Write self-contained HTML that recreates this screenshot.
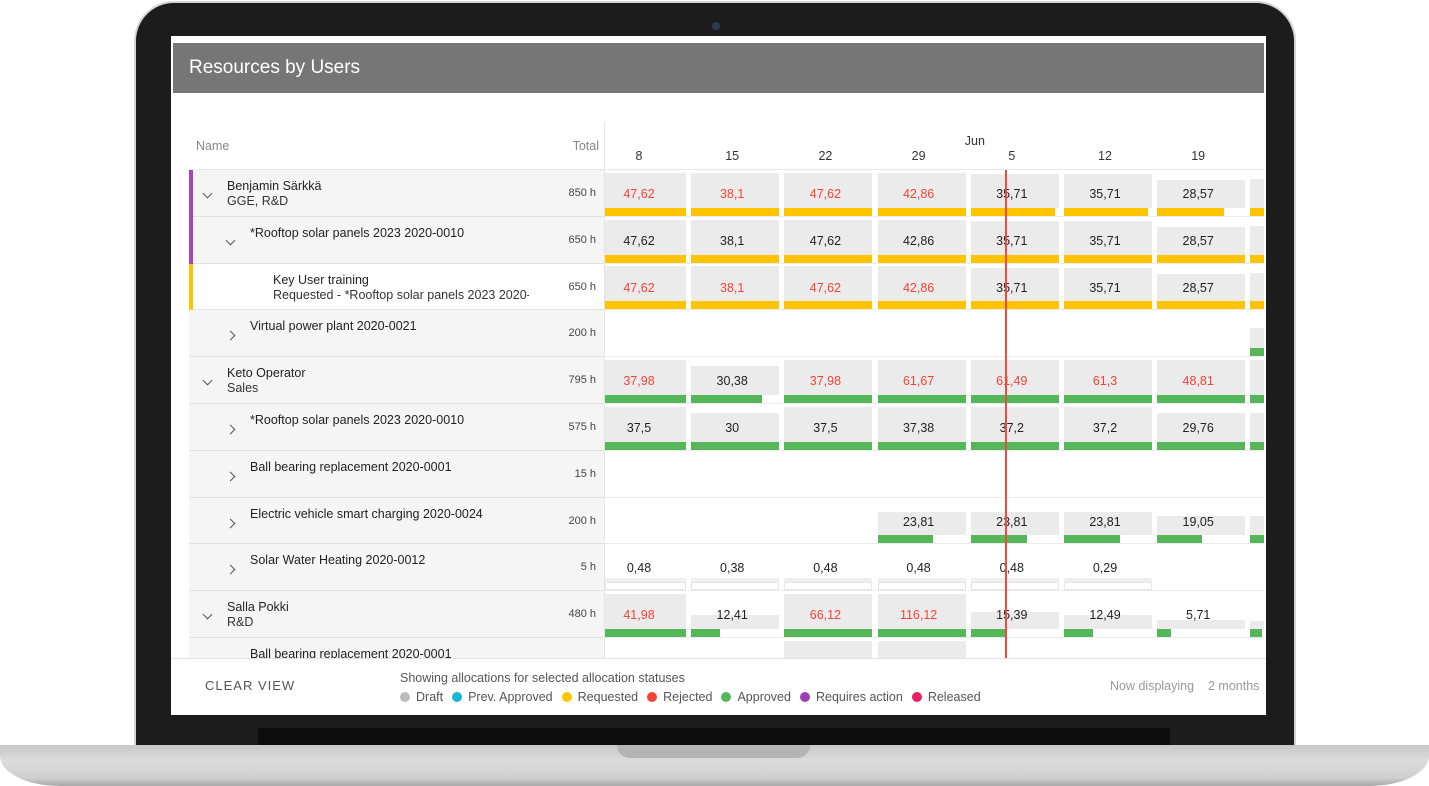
<!DOCTYPE html>
<html><head><meta charset="utf-8">
<style>
*{box-sizing:border-box;margin:0;padding:0}
body{width:1429px;height:786px;background:#fff;position:relative;overflow:hidden;font-family:"Liberation Sans",sans-serif;}
.abs{position:absolute}
.t{position:absolute;white-space:nowrap;font-size:12.5px;color:#222}
</style></head><body>
<div class="abs" style="left:134px;top:1px;width:1162px;height:752px;background:#1c1c1c;border-radius:40px 40px 0 0;border:2px solid #d4d4d4;border-bottom:none"></div>
<div class="abs" style="left:712px;top:22px;width:8px;height:8px;border-radius:50%;background:#2a3a55"></div>
<div class="abs" style="left:258px;top:728px;width:912px;height:18px;background:#0c0c0c"></div>
<div class="abs" style="left:0;top:745px;width:1429px;height:41px;background:linear-gradient(#c8c8c8,#dcdcdc 40%,#cfcfcf 80%,#a9a9a9);border-radius:0 0 60px 60px/0 0 30px 30px"></div>
<div class="abs" style="left:617px;top:745px;width:193px;height:13px;background:#b4b4b4;border-radius:0 0 14px 14px"></div>

<div class="abs" style="left:171px;top:36px;width:1095px;height:679px;background:#fff;overflow:hidden" id="screen">
  <div class="abs" style="left:2px;top:7px;width:1091px;height:50px;background:#767676"></div>
  <div class="t" style="left:18px;top:21px;font-size:19px;color:#fff">Resources by Users</div>
  <div id="grid" class="abs" style="left:0;top:0;width:1093px;height:622px;overflow:hidden"></div>
  <div class="abs" style="left:0;top:622px;width:1095px;height:57px;background:#fff;border-top:1px solid #e2e2e2"></div>
  <div class="t" style="left:34px;top:642px;font-size:13px;letter-spacing:1px;color:#555">CLEAR VIEW</div>
  <div class="t" style="left:229px;top:635px;font-size:12.5px;color:#555">Showing allocations for selected allocation statuses</div>
  <div id="legend" class="abs" style="left:229px;top:653px;height:16px;display:flex;align-items:center;font-size:12.5px;color:#555"></div>
  <div class="t" style="left:939px;top:643px;color:#999">Now displaying</div>
  <div class="t" style="left:1037px;top:643px;color:#999">2 months</div>
</div>

<script>
const weeks=["8","15","22","29","5","12","19",""];
const rowNames=["Benjamin Särkkä","*Rooftop solar panels 2023 2020-0010","Key User training","Virtual power plant 2020-0021","Keto Operator","*Rooftop solar panels 2023 2020-0010","Ball bearing replacement 2020-0001","Electric vehicle smart charging 2020-0024","Solar Water Heating 2020-0012","Salla Pokki","Ball bearing replacement 2020-0001"];
const rowSub=["GGE, R&D","","Requested - *Rooftop solar panels 2023 2020-0010","","Sales","","","","","R&D",""];
const rowLevel=[0,1,2,1,0,1,1,1,1,0,1];
const rowTotals=["850 h","650 h","650 h","200 h","795 h","575 h","15 h","200 h","5 h","480 h",""];
const rowStripe=["#a644b8","#a644b8","#ffc400","","","","","","","",""];
const rowCap=[37.5,28.57,28.57,37.5,37.5,29.76,37.5,37.5,37.5,37.5,37.5];
const rowColor=["#ffc400","#ffc400","#ffc400","#55b65a","#55b65a","#55b65a","#55b65a","#55b65a","#55b65a","#55b65a","#55b65a"];
const values=[
 [47.62,38.1,47.62,42.86,35.71,35.71,28.57,30],
 [47.62,38.1,47.62,42.86,35.71,35.71,28.57,30],
 [47.62,38.1,47.62,42.86,35.71,35.71,28.57,30],
 [null,null,null,null,null,null,null,20],
 [37.98,30.38,37.98,61.67,61.49,61.3,48.81,40],
 [37.5,30,37.5,37.38,37.2,37.2,29.76,30],
 [null,null,null,null,null,null,null,null],
 [null,null,null,23.81,23.81,23.81,19.05,19],
 [0.48,0.38,0.48,0.48,0.48,0.29,null,null],
 [41.98,12.41,66.12,116.12,15.39,12.49,5.71,5],
 [null,null,40,40,null,null,null,null]
];
const overbooked=[
 [1,1,1,1,0,0,0,0],[0,0,0,0,0,0,0,0],[1,1,1,1,0,0,0,0],[0,0,0,0,0,0,0,0],
 [1,0,1,1,1,1,1,0],[0,0,0,0,0,0,0,0],[0,0,0,0,0,0,0,0],[0,0,0,0,0,0,0,0],
 [0,0,0,0,0,0,0,0],[1,0,1,1,0,0,0,0],[0,0,0,0,0,0,0,0]
];
const legendLabels=["Draft","Prev. Approved","Requested","Rejected","Approved","Requires action","Released"];
const legendColors=["#bdbdbd","#17b6d8","#ffc400","#f44336","#55b65a","#9c3fb5","#e91e63"];

const ROW0=134, RH=46.8, LEFT=18, SPLIT=433, COL0=425, CW=93.2;
const rowY=i=>ROW0+i*RH;
const colX=i=>COL0+i*CW+2;
const fmt=v=>String(v).replace('.',',');
const g=document.getElementById('grid');
function add(parent,style,text){const d=document.createElement('div');d.style.cssText='position:absolute;'+style;if(text!==undefined)d.textContent=text;parent.appendChild(d);return d;}

let h=add(g,`left:${LEFT+7}px;top:103px;font-size:12.5px;color:#888`,"Name");


h=add(g,`left:${SPLIT-100}px;width:95px;text-align:right;top:103px;font-size:12.5px;color:#888`,"Total");


let vl=add(g,`left:${SPLIT}px;top:86px;width:1px;height:536px;background:#e4e4e4`);


h=add(g,`left:${colX(4)-6}px;top:98px;font-size:12.5px;color:#333`,"Jun");


weeks.forEach((w,i)=>{
  const d=add(g,`left:${colX(i)-3}px;width:88px;text-align:center;top:113px;font-size:12.5px;color:#333`,w);
  
  
});
let hb=add(g,`left:${LEFT}px;top:${ROW0-1}px;width:1080px;height:1px;background:#e6e6e6`);



rowNames.forEach((name,r)=>{
  const y=rowY(r);
  const bg=(r===2)?'#fff':'#f5f5f5';
  const lp=add(g,`left:${LEFT}px;top:${y}px;width:${SPLIT-LEFT}px;height:${RH}px;background:${bg};border-bottom:1px solid #e2e2e2`);
  
  
  const rl=add(g,`left:${SPLIT}px;top:${y+RH-1}px;width:700px;height:1px;background:#ececec`);
  
  
  if(rowStripe[r]){const s=add(g,`left:${LEFT}px;top:${y}px;width:4px;height:${RH}px;background:${rowStripe[r]}`);
    
    }
  const lv=rowLevel[r];
  if(lv<2){
    const down=(r===0||r===1||r===4||r===9);
    const ch=add(g,`left:${LEFT+15+lv*23}px;top:${y+(down?20:22)}px;width:7px;height:7px;border-right:1.5px solid #555;border-bottom:1.5px solid #555;transform:rotate(${down?45:-45}deg)`);
    
    
  }
  const tx=LEFT+38+lv*23;
  const n=add(g,`left:${tx}px;top:${y+9}px;font-size:12.5px;color:#222;white-space:nowrap;max-width:${SPLIT-tx-50}px;overflow:hidden`,name);
  
  
  if(rowSub[r]){const s=add(g,`left:${tx}px;top:${y+24}px;font-size:12.5px;color:#333;white-space:nowrap;width:${SPLIT-tx-75}px;overflow:hidden`,rowSub[r]);
    
    }
  const t=add(g,`left:${SPLIT-100}px;width:92px;text-align:right;top:${y+17}px;font-size:11px;color:#444`,rowTotals[r]);
  
  

  values[r].forEach((v,c)=>{
    if(v===null)return;
    const x0=colX(c);
    const x=Math.max(x0,SPLIT+1);
    const w=88-(x-x0);
    const f=Math.min(1,v/rowCap[r]);
    const bh=Math.min(43,12+31*Math.min(1,v/37.5));
    const tiny=v<1;
    const box=add(g,`left:${x}px;top:${y+RH-1-bh}px;width:${w}px;height:${bh}px;background:${tiny?'#f0f0f0':'#ebebeb'}`);
    
    
    const barTrack=add(g,`left:${x}px;top:${y+RH-9}px;width:${w}px;height:8px;background:#fff;${tiny?'border:1px solid #e4e4e4;':''}`);
    
    
    if(!tiny){const bar=add(g,`left:${x}px;top:${y+RH-9}px;width:${Math.max(0,88*f-(x-x0))}px;height:8px;background:${rowColor[r]}`);
      
      }
    if(r!==10){const lab=add(g,`left:${x0-3}px;width:88px;text-align:center;top:${y+17}px;font-size:12.5px;color:${overbooked[r][c]?'#f44336':'#222'}`,fmt(v));
      
      }
  });
});
const today=add(g,`left:${colX(4)+34}px;top:${ROW0}px;width:2px;height:500px;background:#ef4b3f`);



const lg=document.getElementById('legend');
legendLabels.forEach((l,i)=>{
  const dot=document.createElement('span');
  dot.style.cssText=`display:inline-block;width:10px;height:10px;border-radius:50%;background:${legendColors[i]};margin-right:6px;margin-left:${i?9:0}px`;
  
  
  lg.appendChild(dot);
  const s=document.createElement('span');
  s.textContent=l;
  
  
  lg.appendChild(s);
});
</script>
</body></html>
